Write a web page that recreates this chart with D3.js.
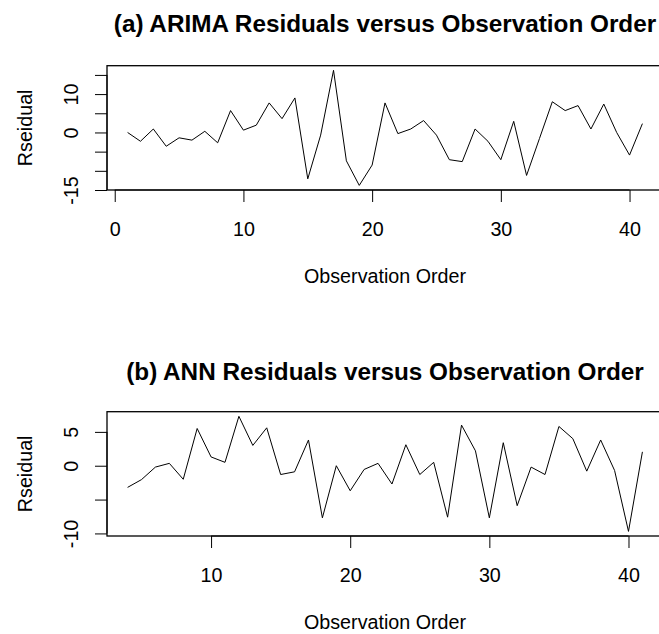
<!DOCTYPE html>
<html>
<head>
<meta charset="utf-8">
<script src="https://cdn.jsdelivr.net/npm/d3@7"></script>
<style>
  body { margin: 0; background: #fff; }
  text { font-family: "Liberation Sans", Arial, sans-serif; fill: #000; }
</style>
</head>
<body>
<div id="chart"></div>
<script>
// ARIMA residuals, observations 1..41
const arimaObs = d3.range(1, 42)
const arimaResid = [0, -2.3, 0.9, -3.6, -1.4, -2.0, 0.3, -2.7, 5.7, 0.6,
  1.9, 7.7, 3.6, 9.0, -12.1, -0.7, 16.2, -7.4, -13.8, -8.5,
  7.7, -0.3, 0.9, 3.1, -0.7, -7.1, -7.6, 0.9, -2.3, -7.1,
  2.9, -11.2, -1.6, 8.0, 5.7, 7.0, 0.9, 7.4, 0, -5.9, 2.3]
const arimaXTicks = [0, 10, 20, 30, 40]
const arimaYTicks = [-15, -10, -5, 0, 5, 10, 15]
const arimaYLabels = [-15, 0, 10]

// ANN residuals, observations 4..41
const annObs = d3.range(4, 42)
const annResid = [-3.2, -2.05, -0.2, 0.35, -2.0, 5.5, 1.3, 0.5, 7.3, 3.0,
  5.6, -1.3, -0.9, 3.8, -7.7, 0, -3.7, -0.55, 0.35, -2.7,
  3.1, -1.3, 0.5, -7.6, 6.0, 2.2, -7.7, 3.4, -5.9, -0.2,
  -1.3, 5.8, 4.0, -0.8, 3.8, -0.7, -9.7, 2.05]
const annXTicks = [10, 20, 30, 40]
const annYTicks = [-10, -5, 0, 5]
const annYLabels = [-10, 0, 5]

const width = 659
const height = 634
const fontSize = 19.7

const svg = d3.select("#chart")
  .append("svg")
  .attr("width", width)
  .attr("height", height)

// R style range: extend by 4% on each side
function rRange(values) {
  const [lo, hi] = d3.extent(values)
  const pad = (hi - lo) * 0.04
  return [lo - pad, hi + pad]
}

function drawPanel(p) {
  const left = 107, plotW = 556, plotH = 124.3
  const top = p.top
  const x = d3.scaleLinear().domain(rRange(p.obs)).range([left, left + plotW])
  const y = d3.scaleLinear().domain(rRange(p.resid)).range([top + plotH, top])
  const bottom = top + plotH

  // title
  svg.append("text")
    .attr("x", left + plotW / 2)
    .attr("y", top - p.titleGap)
    .attr("text-anchor", "middle")
    .style("font-size", "24.3px")
    .style("font-weight", "bold")
    .text(p.title)

  // line
  const line = d3.line()
    .x((d, i) => x(p.obs[i]))
    .y(d => y(d))
  svg.append("path")
    .datum(p.resid)
    .attr("d", line)
    .attr("fill", "none")
    .attr("stroke", "#000")
    .attr("stroke-width", 1)

  // box
  svg.append("rect")
    .attr("x", left)
    .attr("y", top)
    .attr("width", plotW)
    .attr("height", plotH)
    .attr("fill", "none")
    .attr("stroke", "#000")
    .attr("stroke-width", 1.3)

  // x axis
  const gx = svg.append("g")
    .attr("transform", "translate(0," + bottom + ")")
    .call(d3.axisBottom(x).tickValues(p.xTicks).tickSize(12).tickSizeOuter(0))
  gx.select(".domain").remove()
  gx.append("line")
    .attr("x1", x(p.xTicks[0])).attr("x2", x(p.xTicks[p.xTicks.length - 1]))
    .attr("stroke", "#000")
  gx.selectAll(".tick line").attr("stroke-width", 1)
  gx.selectAll(".tick text")
    .attr("y", 46)
    .attr("dy", 0)
    .style("font-size", fontSize + "px")

  // y axis
  const gy = svg.append("g")
    .attr("transform", "translate(" + left + ",0)")
    .call(d3.axisLeft(y).tickValues(p.yTicks).tickSize(12).tickSizeOuter(0)
      .tickFormat(d => p.yLabels.includes(d) ? d : ""))
  gy.select(".domain").remove()
  gy.append("line")
    .attr("y1", y(p.yTicks[0])).attr("y2", y(p.yTicks[p.yTicks.length - 1]))
    .attr("stroke", "#000")
  gy.selectAll(".tick text")
    .attr("x", 0)
    .attr("dy", 0)
    .attr("text-anchor", "middle")
    .attr("transform", "translate(-28.7,0) rotate(-90)")
    .style("font-size", fontSize + "px")

  // axis titles
  svg.append("text")
    .attr("x", left + plotW / 2)
    .attr("y", bottom + 92.7)
    .attr("text-anchor", "middle")
    .style("font-size", fontSize + "px")
    .text("Observation Order")

  svg.append("text")
    .attr("transform", "translate(31.7," + (top + plotH / 2) + ") rotate(-90)")
    .attr("text-anchor", "middle")
    .style("font-size", fontSize + "px")
    .text("Rseidual")
}

drawPanel({
  top: 65.7, titleGap: 34,
  title: "(a) ARIMA Residuals versus Observation Order",
  obs: arimaObs, resid: arimaResid,
  xTicks: arimaXTicks, yTicks: arimaYTicks, yLabels: arimaYLabels
})

drawPanel({
  top: 411.7, titleGap: 31.5,
  title: "(b) ANN Residuals versus Observation Order",
  obs: annObs, resid: annResid,
  xTicks: annXTicks, yTicks: annYTicks, yLabels: annYLabels
})
</script>
</body>
</html>
